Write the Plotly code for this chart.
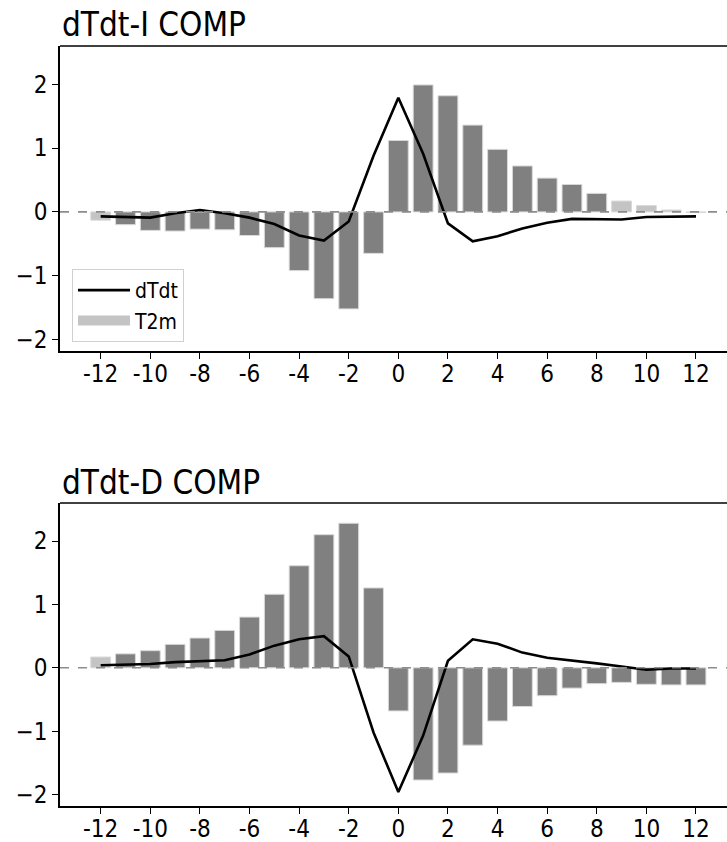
import plotly.graph_objects as go

# Composite lag in hours relative to the event
hours = list(range(-12, 13))
x_tick_vals = list(range(-12, 13, 2))
x_tick_labels = ["-12", "-10", "-8", "-6", "-4", "-2", "0", "2", "4", "6", "8", "10", "12"]
y_tick_vals = [-2, -1, 0, 1, 2]
y_tick_labels = ["\u22122", "\u22121", "0", "1", "2"]

# dTdt-I composite
t2m_inc = [-0.13, -0.20, -0.29, -0.30, -0.27, -0.28, -0.37, -0.56, -0.92, -1.36, -1.52, -0.65,
           1.12, 1.99, 1.82, 1.36, 0.98, 0.72, 0.53, 0.43, 0.29, 0.17, 0.10, 0.03, -0.01]
t2m_inc_sig = [False] + [True] * 20 + [False] * 4
dtdt_inc = [-0.07, -0.08, -0.09, -0.02, 0.03, -0.02, -0.09, -0.19, -0.37, -0.45, -0.15, 0.88,
            1.79, 0.91, -0.18, -0.46, -0.38, -0.26, -0.17, -0.11, -0.12, -0.12, -0.08, -0.07, -0.07]

# dTdt-D composite
t2m_dec = [0.17, 0.22, 0.27, 0.37, 0.47, 0.59, 0.80, 1.16, 1.61, 2.10, 2.28, 1.26,
           -0.68, -1.77, -1.66, -1.22, -0.84, -0.61, -0.44, -0.32, -0.25, -0.23, -0.26, -0.27, -0.27]
t2m_dec_sig = [False] + [True] * 24
dtdt_dec = [0.04, 0.05, 0.06, 0.09, 0.11, 0.12, 0.21, 0.35, 0.45, 0.50, 0.18, -1.02,
            -1.96, -1.07, 0.11, 0.45, 0.38, 0.24, 0.16, 0.12, 0.07, 0.02, -0.03, -0.01, -0.01]

titles = ["dTdt-I COMP", "dTdt-D COMP"]

SIG_COLOR = "#808080"
NONSIG_COLOR = "#c4c4c4"
FONT = "DejaVu Sans Condensed, DejaVu Sans, sans-serif"

W, H = 727, 842
LEFT = 60
# plot-area pixel bounds (top, bottom) for each panel
panels = [(46, 351), (503, 806)]

fig = go.Figure()

for i, (t2m, sig, dtdt) in enumerate([(t2m_inc, t2m_inc_sig, dtdt_inc),
                                       (t2m_dec, t2m_dec_sig, dtdt_dec)]):
    n = "" if i == 0 else "2"
    xa, ya = "x" + n, "y" + n
    fig.add_trace(go.Bar(
        x=hours, y=t2m, width=0.8,
        marker=dict(color=[SIG_COLOR if s else NONSIG_COLOR for s in sig],
                    line=dict(color="#d9d9d9", width=1)),
        xaxis=xa, yaxis=ya, showlegend=False, name="T2m",
    ))
    fig.add_trace(go.Scatter(
        x=hours, y=dtdt, mode="lines",
        line=dict(color="black", width=2.6),
        xaxis=xa, yaxis=ya, showlegend=(i == 0), name="dTdt",
    ))
    # dashed zero reference line
    fig.add_shape(type="line", xref=xa + " domain", yref=ya,
                  x0=0, x1=1, y0=0, y1=0, layer="above",
                  line=dict(color="#8c8c8c", width=1.6, dash="dash"))

# legend entry for the bars (wide patch)
fig.add_trace(go.Scatter(
    x=[None], y=[None], mode="lines", name="T2m",
    line=dict(color=NONSIG_COLOR, width=12),
    xaxis="x", yaxis="y", showlegend=True,
))

axis_common = dict(
    showline=True, linecolor="black", linewidth=1.5,
    ticks="outside", ticklen=6, tickwidth=1.3, tickcolor="black",
    showgrid=False, zeroline=False,
    tickfont=dict(family=FONT, size=24, color="black"),
)

layout = dict(
    width=W, height=H,
    margin=dict(l=LEFT, r=0, t=0, b=0, autoexpand=False),
    paper_bgcolor="white", plot_bgcolor="white",
    barmode="overlay",
    showlegend=True,
    legend=dict(
        x=(72 - LEFT) / (W - LEFT), y=1 - 342 / H, xanchor="left", yanchor="bottom",
        bgcolor="rgba(255,255,255,0.8)", bordercolor="#d0d0d0", borderwidth=1,
        font=dict(family=FONT, size=21, color="black"),
        tracegroupgap=0, itemwidth=52,
    ),
)

annotations = []
for i, (top, bot) in enumerate(panels):
    n = "" if i == 0 else "2"
    layout["xaxis" + n] = dict(
        axis_common, domain=[0, 1], anchor="y" + n,
        range=[-13.64, 13.25], mirror=False, automargin=False,
        ticklabelstandoff=-6,
        tickmode="array", tickvals=x_tick_vals, ticktext=x_tick_labels,
    )
    layout["yaxis" + n] = dict(
        axis_common, domain=[1 - bot / H, 1 - top / H], anchor="x" + n,
        range=[-2.18, 2.6], automargin=False,
        tickmode="array", tickvals=y_tick_vals, ticktext=y_tick_labels,
    )
    # top spine of the axes frame
    fig.add_shape(type="line", xref="x" + n + " domain", yref="y" + n + " domain",
                  x0=0, x1=1, y0=1, y1=1, line=dict(color="black", width=1.5))
    annotations.append(dict(
        text=titles[i], xref="paper", yref="paper",
        x=(60 - LEFT) / (W - LEFT), y=1 - (top - 21) / H,
        xanchor="left", yanchor="middle", showarrow=False,
        font=dict(family=FONT, size=33, color="black"),
    ))

layout["annotations"] = annotations
fig.update_layout(**layout)

fig.write_html("out.html")
